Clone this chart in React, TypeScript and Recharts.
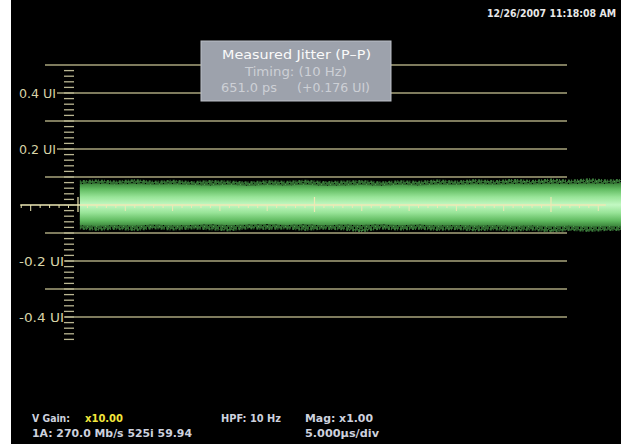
import { Area, ComposedChart, ReferenceLine, Scatter, XAxis, YAxis } from "recharts";

// time along the trace, in µs (0 = trigger)
const bandTime = [0.2, 2, 4, 6, 8, 10, 12, 14, 16, 18, 20, 22, 24, 26, 28, 30, 32, 34, 36, 38, 40, 42, 44, 46, 48, 50, 52, 54, 56, 57.4];
// dense part of the jitter band, UI
const bodyTop = [0.074, 0.076, 0.073, 0.075, 0.072, 0.074, 0.071, 0.07, 0.072, 0.069, 0.071, 0.07, 0.072, 0.069, 0.07, 0.071, 0.069, 0.072, 0.07, 0.073, 0.071, 0.074, 0.072, 0.075, 0.073, 0.076, 0.074, 0.077, 0.075, 0.078];
const bodyBottom = [-0.072, -0.075, -0.071, -0.074, -0.07, -0.073, -0.071, -0.069, -0.072, -0.07, -0.068, -0.071, -0.069, -0.072, -0.07, -0.071, -0.069, -0.072, -0.07, -0.073, -0.071, -0.074, -0.072, -0.075, -0.073, -0.076, -0.074, -0.077, -0.075, -0.076];
// outer speckle fringe, UI
const speckTop = [0.084, 0.087, 0.083, 0.088, 0.082, 0.086, 0.081, 0.085, 0.083, 0.08, 0.084, 0.082, 0.086, 0.081, 0.083, 0.085, 0.08, 0.084, 0.082, 0.087, 0.083, 0.088, 0.084, 0.089, 0.085, 0.09, 0.086, 0.091, 0.087, 0.089];
const speckBottom = [-0.083, -0.088, -0.084, -0.089, -0.082, -0.087, -0.083, -0.086, -0.09, -0.082, -0.085, -0.083, -0.088, -0.084, -0.086, -0.093, -0.083, -0.087, -0.084, -0.088, -0.085, -0.09, -0.086, -0.091, -0.087, -0.094, -0.088, -0.092, -0.088, -0.089];

const gridLevels = [0.5, 0.4, 0.3, 0.2, 0.1, -0.1, -0.2, -0.3, -0.4];
const labelLevels = [0.4, 0.2, -0.2, -0.4];
const labelTexts = ["0.4 UI", "0.2 UI", "-0.2 UI", "-0.4 UI"];
const minorTicks = Array.from({ length: 49 }, (_, i) => Math.round((0.48 - i * 0.02) * 100) / 100);
const timeTicks = Array.from({ length: 62 }, (_, i) => i - 6);

const data = bandTime.map((t, i) => ({
  t,
  body: [bodyBottom[i], bodyTop[i]],
  speck: [speckBottom[i], speckTop[i]],
}));
const tickRows = timeTicks.map((t) => ({ t, y: 0 }));

const FONT = "'DejaVu Sans Condensed', 'DejaVu Sans', sans-serif";

function UiTick(props: any) {
  const v = props.payload.value;
  const y = props.y;
  const li = labelLevels.findIndex((l) => Math.abs(l - v) < 1e-6);
  const isGrid = gridLevels.some((g) => Math.abs(g - v) < 1e-6);
  const isMinor = minorTicks.some((g) => Math.abs(g - v) < 1e-6);
  const lineStart = li >= 0 ? (v > 0 ? 57 : 65) : 45;
  return (
    <g>
      {isGrid && <line x1={lineStart} x2={567} y1={y} y2={y} stroke="#a8a47c" strokeWidth={1.3} />}
      {isMinor && <line x1={64} x2={74} y1={y} y2={y} stroke="#bab692" strokeWidth={1.3} />}
      {li >= 0 && (
        <text x={19} y={y + 4.5} fontSize={12} fontFamily={FONT} fill="#d8d4a8"
          textLength={v > 0 ? 37 : 45} lengthAdjust="spacingAndGlyphs" textAnchor="start">
          {labelTexts[li]}
        </text>
      )}
    </g>
  );
}

function TimeTick(props: any) {
  const { cx, cy, payload } = props;
  const t = payload.t;
  if (t % 25 === 0) return <line x1={cx} x2={cx} y1={cy - 8} y2={cy + 7} stroke="#eee8b4" strokeWidth={1.2} />;
  if (t % 5 === 0) return <line x1={cx} x2={cx} y1={cy} y2={cy + 6} stroke="#eee8b4" strokeWidth={1} />;
  return <line x1={cx} x2={cx} y1={cy} y2={cy + 3} stroke="#eee8b4" strokeWidth={1} />;
}

export default function App() {
  return (
    <div style={{ position: "fixed", left: 0, top: 0, width: 621, height: 444, background: "linear-gradient(to right, #fff 0, #fff 11px, #000 11px)" }}>
      <ComposedChart width={621} height={444} data={data} margin={{ top: 37, right: 0, bottom: 71, left: 19 }}>
        <defs>
          <linearGradient id="bandFill" x1="0" y1="0" x2="0" y2="1">
            <stop offset="0%" stopColor="#3a843a" />
            <stop offset="14%" stopColor="#62bc62" />
            <stop offset="32%" stopColor="#98e498" />
            <stop offset="50%" stopColor="#c2f8c2" />
            <stop offset="68%" stopColor="#98e498" />
            <stop offset="86%" stopColor="#62bc62" />
            <stop offset="100%" stopColor="#3a843a" />
          </linearGradient>
          <pattern id="speckle" width={9} height={7} patternUnits="userSpaceOnUse">
            <rect width={9} height={7} fill="#2f682f" />
            <rect x={1} y={1} width={1} height={1} fill="#000" />
            <rect x={5} y={0} width={2} height={1} fill="#0a1a0a" />
            <rect x={3} y={3} width={1} height={2} fill="#000" />
            <rect x={7} y={4} width={1} height={1} fill="#000" />
            <rect x={0} y={5} width={2} height={1} fill="#112811" />
            <rect x={6} y={2} width={1} height={1} fill="#4f9f4f" />
            <rect x={2} y={6} width={1} height={1} fill="#4f9f4f" />
            <rect x={8} y={6} width={1} height={1} fill="#000" />
          </pattern>
        </defs>
        <XAxis dataKey="t" type="number" domain={[-6.13, 57.4]} hide allowDataOverflow />
        <YAxis type="number" domain={[-0.6, 0.6]} ticks={[0.5, ...minorTicks]} interval={0} width={1}
          axisLine={false} tickLine={false} tick={<UiTick />} allowDataOverflow />
        <Area dataKey="speck" type="linear" fill="url(#speckle)" fillOpacity={1} stroke="#3b7a3b" strokeWidth={2.5}
          strokeDasharray="1 2 2 1" isAnimationActive={false} />
        <Area dataKey="body" type="linear" fill="url(#bandFill)" fillOpacity={1} stroke="none" isAnimationActive={false} />
        <ReferenceLine segment={[{ x: -6.1, y: 0 }, { x: 55.8, y: 0 }]} stroke="#eee8b4" strokeWidth={1.5} />
        <Scatter data={tickRows} dataKey="y" shape={<TimeTick />} isAnimationActive={false} />
      </ComposedChart>
      <svg width={621} height={444} style={{ position: "absolute", left: 0, top: 0, pointerEvents: "none" }} fontFamily={FONT}>
        <text x={487} y={17} fontSize={10} fontWeight="bold" fill="#e8e8e8" textLength={129} lengthAdjust="spacingAndGlyphs">12/26/2007 11:18:08 AM</text>
        <rect x={201} y={41} width={190} height={60} fill="#9da2ac" stroke="#bcc0c7" strokeWidth={1} />
        <text x={222} y={59} fontSize={12.5} fill="#fafafa" textLength={149} lengthAdjust="spacingAndGlyphs">Measured Jitter (P–P)</text>
        <text x={245} y={76} fontSize={12.5} fill="#cdd0d6" textLength={102} lengthAdjust="spacingAndGlyphs">Timing: (10 Hz)</text>
        <text x={221} y={92} fontSize={12.5} fill="#cdd0d6" textLength={56} lengthAdjust="spacingAndGlyphs">651.0 ps</text>
        <text x={297} y={92} fontSize={12.5} fill="#cdd0d6" textLength={73} lengthAdjust="spacingAndGlyphs">(+0.176 UI)</text>
        <text x={32} y={422} fontSize={11} fontWeight="bold" fill="#cdd1de" textLength={38} lengthAdjust="spacingAndGlyphs">V Gain:</text>
        <text x={85} y={422} fontSize={11} fontWeight="bold" fill="#f2e63c" textLength={38} lengthAdjust="spacingAndGlyphs">x10.00</text>
        <text x={32} y={437} fontSize={11} fontWeight="bold" fill="#cdd1de" textLength={160} lengthAdjust="spacingAndGlyphs">1A: 270.0 Mb/s  525i 59.94</text>
        <text x={221} y={422} fontSize={11} fontWeight="bold" fill="#cdd1de" textLength={60} lengthAdjust="spacingAndGlyphs">HPF: 10 Hz</text>
        <text x={305} y={422} fontSize={11} fontWeight="bold" fill="#cdd1de" textLength={68} lengthAdjust="spacingAndGlyphs">Mag:  x1.00</text>
        <text x={305} y={437} fontSize={11} fontWeight="bold" fill="#cdd1de" textLength={74} lengthAdjust="spacingAndGlyphs">5.000µs/div</text>
      </svg>
    </div>
  );
}
